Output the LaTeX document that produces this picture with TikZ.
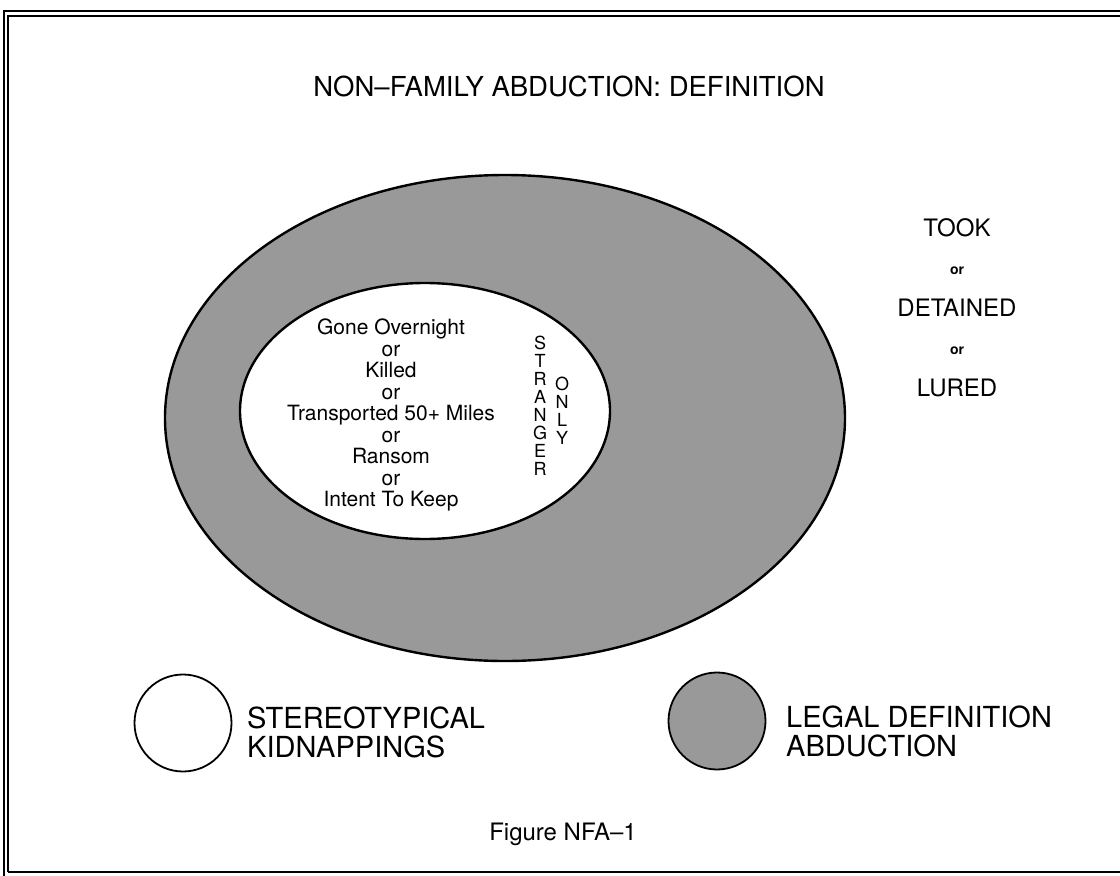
\documentclass[tikz,border=0pt]{standalone}
\usepackage{fontspec}
\setmainfont{TeX Gyre Heros}
\usetikzlibrary{shapes.geometric}
\definecolor{halftone}{gray}{0.6}
\tikzset{
  frameline/.style={line width=1.6pt},
  bigellipse/.style={ellipse, draw, line width=2.4pt, inner sep=0pt},
  legendcircle/.style={circle, draw, line width=1.8pt, inner sep=0pt, minimum size=97pt},
  bigtxt/.style={font=\fontsize{29}{29}\selectfont, align=left, anchor=west, inner sep=0pt},
  midtxt/.style={font=\fontsize{24}{24}\selectfont, inner sep=0pt},
  smallor/.style={font=\fontsize{14}{14}\selectfont\bfseries, inner sep=0pt},
  innertxt/.style={font=\fontsize{21}{21.5}\selectfont, align=center, inner sep=0pt},
  vertxt/.style={font=\fontsize{18}{18}\selectfont, align=center, inner sep=0pt}
}
\begin{document}
\begin{tikzpicture}[x=1pt,y=-1pt]
\useasboundingbox (0,0) rectangle (1120,876);
% frame
\coordinate (f1) at (4,876);
\coordinate (f2) at (4,11);
\coordinate (f3) at (1120,11);
\coordinate (g1) at (8,872);
\coordinate (g2) at (8,16);
\coordinate (g3) at (1120,16);
\coordinate (h1) at (1120,872);
\draw[line width=1.2pt] (f1) -- (f2) -- (f3);
\draw[frameline] (g1) -- (g2) -- (g3);
\draw[frameline] (g1) -- (h1);
% title
\node[font=\fontsize{27.5}{27.5}\selectfont, inner sep=0pt] (title) at (569,86) {NON–FAMILY ABDUCTION: DEFINITION};
% ellipses
\node[bigellipse, fill=halftone, minimum width=680pt, minimum height=486pt] (outer) at (505,418) {};
\node[bigellipse, fill=white, minimum width=370pt, minimum height=256pt] (inner) at (425,411) {};
\node[innertxt] (conds) at (391,415) {Gone Overnight\\or\\Killed\\or\\Transported 50+ Miles\\or\\Ransom\\or\\Intent To Keep};
\node[vertxt] (stranger) at (540,406) {S\\T\\R\\A\\N\\G\\E\\R};
\node[vertxt] (only) at (562,411) {O\\N\\L\\Y};
% right column
\node[midtxt] (took) at (957,228) {TOOK};
\node[smallor] (or1) at (957,271) {or};
\node[midtxt] (detained) at (957,308) {DETAINED};
\node[smallor] (or2) at (957,351) {or};
\node[midtxt] (lured) at (957,388) {LURED};
% legend
\node[legendcircle, fill=white] (leg1) at (183,723) {};
\node[bigtxt] (leg1txt) at (247,732) {STEREOTYPICAL\\KIDNAPPINGS};
\node[legendcircle, fill=halftone] (leg2) at (717,721) {};
\node[bigtxt] (leg2txt) at (786,731) {LEGAL DEFINITION\\ABDUCTION};
% caption
\node[font=\fontsize{24}{24}\selectfont, inner sep=0pt] (caption) at (563,834) {Figure NFA–1};
\end{tikzpicture}
\end{document}
